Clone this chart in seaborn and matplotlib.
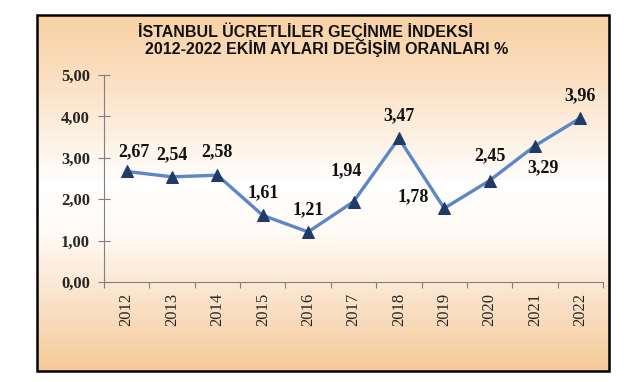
import matplotlib
matplotlib.use("Agg")
import matplotlib.pyplot as plt
import numpy as np
import pandas as pd
import seaborn as sns
from matplotlib.colors import LinearSegmentedColormap
from matplotlib.patches import Rectangle

# ── Data ──────────────────────────────────────────────────────────────────────
years = ["2012", "2013", "2014", "2015", "2016", "2017",
         "2018", "2019", "2020", "2021", "2022"]
rates = [2.67, 2.54, 2.58, 1.61, 1.21, 1.94, 3.47, 1.78, 2.45, 3.29, 3.96]
labels = ["2,67", "2,54", "2,58", "1,61", "1,21", "1,94",
          "3,47", "1,78", "2,45", "3,29", "3,96"]
yticks = [0, 1, 2, 3, 4, 5]
ytick_labels = ["0,00", "1,00", "2,00", "3,00", "4,00", "5,00"]

W, H = 641, 382
sns.set_theme(style="white")
plt.rcParams["font.family"] = ["Liberation Serif", "DejaVu Serif"]

fig = plt.figure(figsize=(W / 100, H / 100), dpi=100)
fig.patch.set_facecolor("white")

# ── Frame with peach-white-peach gradient ─────────────────────────────────────
fx0, fy0, fx1, fy1 = 37, 15, 609, 371
bg = fig.add_axes([fx0 / W, 1 - fy1 / H, (fx1 - fx0) / W, (fy1 - fy0) / H])
cmap = LinearSegmentedColormap.from_list(
    "peach", [(0.0, "#f9d1a4"), (0.18, "#fbe0c2"), (0.48, "#ffffff"),
              (0.62, "#fffaf4"), (0.85, "#f9dcbd"), (1.0, "#f6c99a")])
bg.imshow(np.linspace(0, 1, 256).reshape(-1, 1), aspect="auto", cmap=cmap,
          extent=[0, 1, 0, 1], origin="upper")
bg.set_xlim(0, 1)
bg.set_ylim(0, 1)
bg.axis("off")
fig.patches.append(Rectangle((fx0 / W, 1 - fy1 / H), (fx1 - fx0) / W,
                             (fy1 - fy0) / H, transform=fig.transFigure,
                             fill=False, edgecolor="black", linewidth=1.8,
                             zorder=5))

# ── Title ─────────────────────────────────────────────────────────────────────
tkw = dict(ha="center", va="center", fontsize=11.5, fontweight="bold",
           family=["Liberation Sans Narrow", "Liberation Sans"], color="#111111")
fig.text(305 / W, 1 - 31 / H, "İSTANBUL ÜCRETLİLER GEÇİNME İNDEKSİ", **tkw)
fig.text(327 / W, 1 - 48 / H, "2012-2022 EKİM AYLARI DEĞİŞİM ORANLARI %", **tkw)

# ── Plot area ─────────────────────────────────────────────────────────────────
ax0, ax1, ay0, ay1 = 104, 603, 282, 75
ax = fig.add_axes([ax0 / W, 1 - ay0 / H, (ax1 - ax0) / W, (ay0 - ay1) / H])
ax.patch.set_alpha(0)

df = pd.DataFrame({"year": years, "rate": rates})
sns.lineplot(data=df, x="year", y="rate", ax=ax, color="#5b87c7",
             linewidth=2.4, marker="^", markersize=8,
             markerfacecolor="#1f3b66", markeredgecolor="#1f3b66")

ax.set_xlim(-0.5, len(years) - 0.5)
ax.set_ylim(0, 5)
ax.set_xlabel("")
ax.set_ylabel("")

ax.set_yticks(yticks)
ax.set_yticklabels(ytick_labels, fontsize=12, fontweight="bold")
ax.set_xticks(np.arange(-0.5, len(years)), minor=False)
ax.set_xticklabels([])
ax.set_xticks(np.arange(len(years)), minor=True)
ax.set_xticklabels(years, minor=True, rotation=90, fontsize=12)
ax.tick_params(axis="y", direction="inout", length=8, width=0.8,
               color="#7f7f7f", pad=6, left=True)
ax.tick_params(axis="x", which="major", direction="out", length=4,
               width=0.8, color="#7f7f7f", bottom=True)
ax.tick_params(axis="x", which="minor", length=0, pad=8)

for side in ["top", "right"]:
    ax.spines[side].set_visible(False)
for side in ["left", "bottom"]:
    ax.spines[side].set_color("#7f7f7f")
    ax.spines[side].set_linewidth(0.8)

# data labels (offsets in points)
offsets = [(5, 14), (0, 16), (0, 17), (0, 16), (0, 16), (-5, 22),
           (0, 16), (-22, 8), (0, 18), (6, -16), (0, 16)]
for i, (lab, (dx, dy)) in enumerate(zip(labels, offsets)):
    ax.annotate(lab, (i, rates[i]), xytext=(dx, dy), textcoords="offset points",
                ha="center", va="center", fontsize=13, fontweight="bold",
                color="#111111", annotation_clip=False)

fig.savefig("out.png", dpi=100)
